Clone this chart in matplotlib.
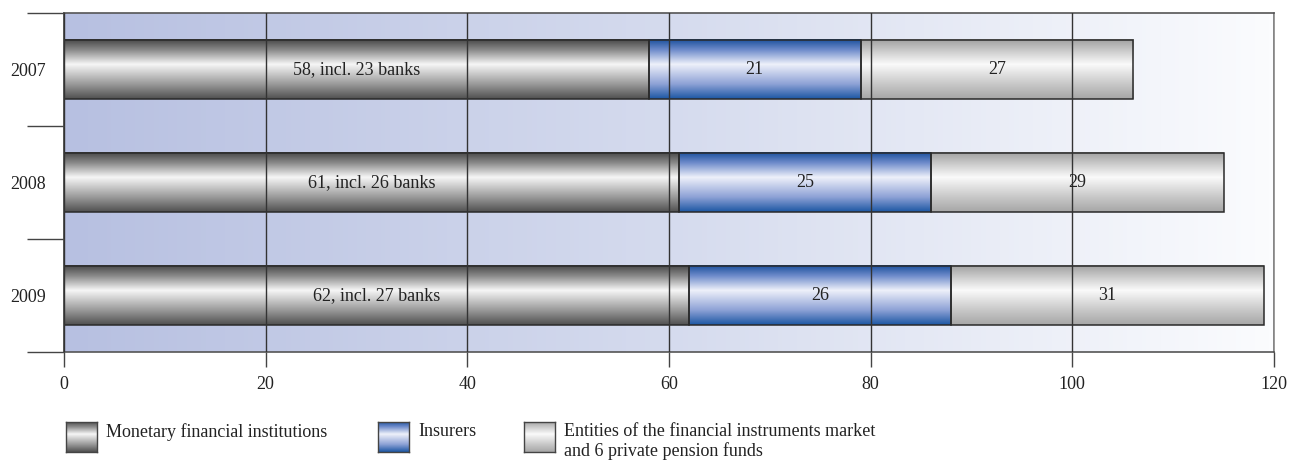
import numpy as np
import matplotlib.pyplot as plt
from matplotlib.colors import LinearSegmentedColormap
from matplotlib.patches import Rectangle

plt.rcParams['font.family'] = ['Liberation Serif', 'DejaVu Serif']

years = ['2007', '2008', '2009']
mfi = [58, 61, 62]
banks = [23, 26, 27]
insurers = [21, 25, 26]
others = [27, 29, 31]

series_names = ['Monetary financial institutions', 'Insurers',
                'Entities of the financial instruments market\nand 6 private pension funds']

# vertical gradients (top -> bottom) for each series
grad_gray = LinearSegmentedColormap.from_list('g', [(0, '#464646'), (0.18, '#8a8a8a'), (0.42, '#f6f6f6'),
                                                     (0.75, '#9a9a9a'), (1, '#505050')])
grad_blue = LinearSegmentedColormap.from_list('b', [(0, '#1a4f9c'), (0.18, '#6f8ccb'), (0.42, '#eef1fa'),
                                                     (0.75, '#8ea2d6'), (1, '#1b56a3')])
grad_light = LinearSegmentedColormap.from_list('l', [(0, '#a0a0a0'), (0.2, '#cccccc'), (0.42, '#fafafa'),
                                                      (0.75, '#c8c8c8'), (1, '#a6a6a6')])
cmaps = [grad_gray, grad_blue, grad_light]

bg = LinearSegmentedColormap.from_list('bg', ['#b7c0e1', '#d5dbee', '#fbfcfe'])
vgrad = np.linspace(0, 1, 256).reshape(-1, 1)

fig = plt.figure(figsize=(12.89, 4.61), dpi=100)
ax = fig.add_axes([64 / 1289, 1 - 352 / 461, 1210 / 1289, 339 / 461])

ax.set_xlim(0, 120)
ax.set_ylim(2.5, -0.5)

# background gradient
ax.imshow(np.linspace(0, 1, 256).reshape(1, -1), cmap=bg, aspect='auto',
          extent=[0, 120, 2.5, -0.5], zorder=0)

h = 0.53
for i in range(len(years)):
    left = 0
    for j, vals in enumerate([mfi, insurers, others]):
        w = vals[i]
        ax.imshow(vgrad, cmap=cmaps[j], aspect='auto',
                  extent=[left, left + w, i + h / 2, i - h / 2], zorder=1)
        ax.add_patch(Rectangle((left, i - h / 2), w, h, fill=False, ec='#2a2a2a', lw=1.1, zorder=1.5))
        if j == 0:
            txt = f'{w}, incl. {banks[i]} banks'
        else:
            txt = str(w)
        ax.text(left + w / 2, i, txt, ha='center', va='center', fontsize=13, color='#222222', zorder=3)
        left += w

ax.set_xticks(range(0, 121, 20))
ax.set_yticks(range(len(years)))
ax.set_yticklabels(years)
ax.set_yticks([-0.5, 0.5, 1.5, 2.5], minor=True)
ax.tick_params(axis='y', which='major', length=0, pad=13, labelsize=13, colors='#222222')
ax.tick_params(axis='y', which='minor', length=27, width=1, color='#444444')
ax.tick_params(axis='x', which='major', length=11, width=1, color='#444444', labelsize=13,
               labelcolor='#222222', pad=6)
ax.set_axisbelow(False)
ax.grid(axis='x', color='#333333', lw=1)
ax.spines['left'].set_color('#333333')
ax.spines['top'].set_color('#555555')
ax.spines['bottom'].set_color('#555555')
ax.spines['right'].set_color('#888888')
for s in ax.spines.values():
    s.set_linewidth(1.2)

# legend swatches
legend_x = [66, 378, 524]
for j, name in enumerate(series_names):
    x0 = legend_x[j]
    sax = fig.add_axes([x0 / 1289, 1 - 452 / 461, 31 / 1289, 30 / 461])
    sax.imshow(vgrad, cmap=cmaps[j], aspect='auto', extent=[0, 1, 1, 0])
    sax.set_xticks([])
    sax.set_yticks([])
    for s in sax.spines.values():
        s.set_color('#444444')
        s.set_linewidth(1)
    fig.text((x0 + 40) / 1289, 1 - 423 / 461, name, ha='left', va='top', fontsize=13,
             color='#222222', linespacing=1.15)

fig.savefig('out.png', dpi=100)
